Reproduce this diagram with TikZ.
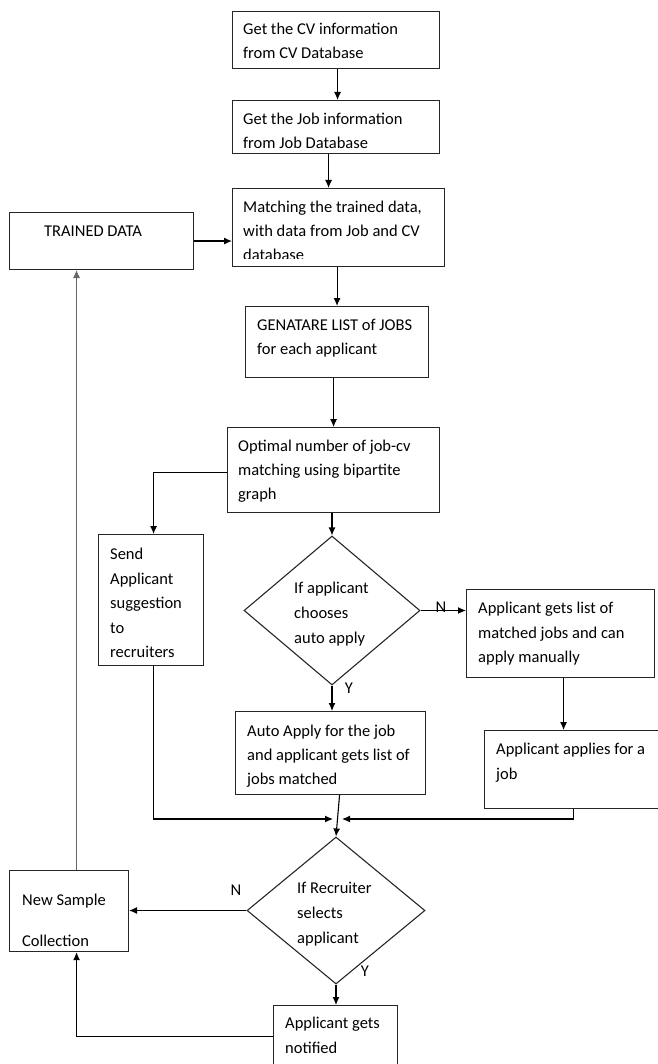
\documentclass[tikz,border=0pt]{standalone}
\usepackage{fontspec}
\setmainfont{Carlito}
\usetikzlibrary{shapes.geometric,arrows.meta}
\tikzset{
  box/.style={draw=black!85, line width=1.1pt, rectangle, inner sep=0pt, anchor=north west},
  dia/.style={draw=black!85, line width=1.1pt, diamond, inner sep=0pt, aspect=1},
  txt/.style={anchor=north west, inner sep=0pt, align=left, font=\fontsize{16.5}{24}\selectfont},
  lab/.style={anchor=base, inner sep=0pt, font=\fontsize{16.5}{24}\selectfont},
  arr/.style={draw=black, line width=1.1pt, -{Latex[length=8pt,width=7pt]}},
  ln/.style={draw=black, line width=1.1pt}
}
\begin{document}
\begin{tikzpicture}[x=1pt,y=-1pt]
\useasboundingbox (0,0) rectangle (657,1064);
% boxes
\node[box, minimum width=207pt, minimum height=57pt] (b1) at (232,11) {};
\node[box, minimum width=207pt, minimum height=53pt] (b2) at (232,100) {};
\node[box, minimum width=212pt, minimum height=78pt] (b3) at (232,188) {};
\node[box, minimum width=184pt, minimum height=57pt] (td) at (9,212) {};
\node[box, minimum width=183pt, minimum height=71pt] (b4) at (245,306) {};
\node[box, minimum width=212pt, minimum height=85pt] (b5) at (227,427) {};
\node[box, minimum width=105pt, minimum height=131pt] (send) at (98,534) {};
\node[dia, minimum width=176pt, minimum height=149pt] (d1) at (332,610.5) {};
\node[box, minimum width=188pt, minimum height=88pt] (b6) at (466,589) {};
\node[box, minimum width=190pt, minimum height=83pt] (b7) at (235,711) {};
\node[box, minimum width=180pt, minimum height=78pt] (b8) at (484,730) {};
\node[box, minimum width=119pt, minimum height=81pt] (ns) at (9,870) {};
\node[dia, minimum width=178pt, minimum height=147pt] (d2) at (336,910.5) {};
\node[box, minimum width=124pt, minimum height=70pt] (b9) at (273,1005) {};
% texts
\node[txt] (t1) at (243,17.2) {\strut Get the CV information\\from CV Database};
\node[txt] (t2) at (243,107.2) {\strut Get the Job information\\from Job Database};
\begin{scope}
\clip (232,188) rectangle (444,259);
\node[txt] (t3) at (243,195.2) {\strut Matching the trained data,\\with data from Job and CV\\database};
\end{scope}
\node[txt] (ttd) at (44,219.2) {\strut TRAINED DATA};
\node[txt] (t4) at (257,313.2) {\strut GENATARE LIST of JOBS\\for each applicant};
\node[txt] (t5) at (238,434.2) {\strut Optimal number of job-cv\\matching using bipartite\\graph};
\node[txt, font=\fontsize{16.5}{24.5}\selectfont] (tsend) at (110,542.2) {\strut Send\\Applicant\\suggestion\\to\\recruiters};
\node[txt, font=\fontsize{16.5}{25}\selectfont] (td1) at (294,576.2) {\strut If applicant\\chooses\\auto apply};
\node[txt, font=\fontsize{16.5}{24.5}\selectfont] (t6) at (478,596.2) {\strut Applicant gets list of\\matched jobs and can\\apply manually};
\node[txt] (t7) at (247,719.2) {\strut Auto Apply for the job\\and applicant gets list of\\jobs matched};
\node[txt, font=\fontsize{16.5}{25}\selectfont] (t8) at (496,737.2) {\strut Applicant applies for a\\job};
\node[txt, font=\fontsize{16.5}{41}\selectfont] (tns) at (22,876.2) {\strut New Sample\\Collection};
\node[txt, font=\fontsize{16.5}{25}\selectfont] (td2) at (297,876.2) {\strut If Recruiter\\selects\\applicant};
\node[txt, font=\fontsize{16.5}{25}\selectfont] (t9) at (285,1011.2) {\strut Applicant gets\\notified};
% labels
\node[lab] (n1) at (441,612) {N};
\node[lab] (y1) at (349,693) {Y};
\node[lab] (n2) at (236,895) {N};
\node[lab] (y2) at (365,976) {Y};
% connectors
\draw[arr] ([xshift=1.5pt]b1.south) -- ([xshift=1.5pt]b1.south |- b2.north);
\draw[arr] ([xshift=-7.5pt]b2.south) -- ([xshift=-7.5pt]b2.south |- b3.north);
\draw[arr] (td.east) -- (b3.west |- td.east);
\draw[arr] (b4.north |- b3.south) -- (b4.north);
\draw[arr] (b5.north |- b4.south) -- (b5.north);
\draw[arr] ([yshift=-2.5pt]b5.west) -| ([xshift=2.5pt]send.north);
\draw[arr] (d1.north |- b5.south) -- (d1.north);
\draw[arr] (d1.east) -- (b6.west |- d1.east);
\draw[arr] (d1.south) -- (d1.south |- b7.north);
\draw[arr] ([xshift=3pt]b6.south) -- ([xshift=3pt]b6.south |- b8.north);
\coordinate (j) at (337.5,819);
\draw[arr] ([xshift=2.5pt]send.south) |- ([xshift=-4.5pt]j);
\draw[arr] ([xshift=-1pt]b8.south |- b8.south) |- ([xshift=4.5pt]j);
\draw[arr] ([xshift=9pt]b7.south) -- (d2.north);
\draw[arr] (d2.west) -- (ns.east |- d2.west);
\draw[arr] (d2.south) -- (d2.south |- b9.north);
\draw[arr] ([yshift=4.5pt]b9.west) -| ([xshift=7.5pt]ns.south);
\draw[line width=0.9pt, draw=black!60, -{Latex[length=8pt,width=7pt]}] ([xshift=7.5pt]ns.north) -- ([xshift=7.5pt]ns.north |- td.south);
\end{tikzpicture}
\end{document}
